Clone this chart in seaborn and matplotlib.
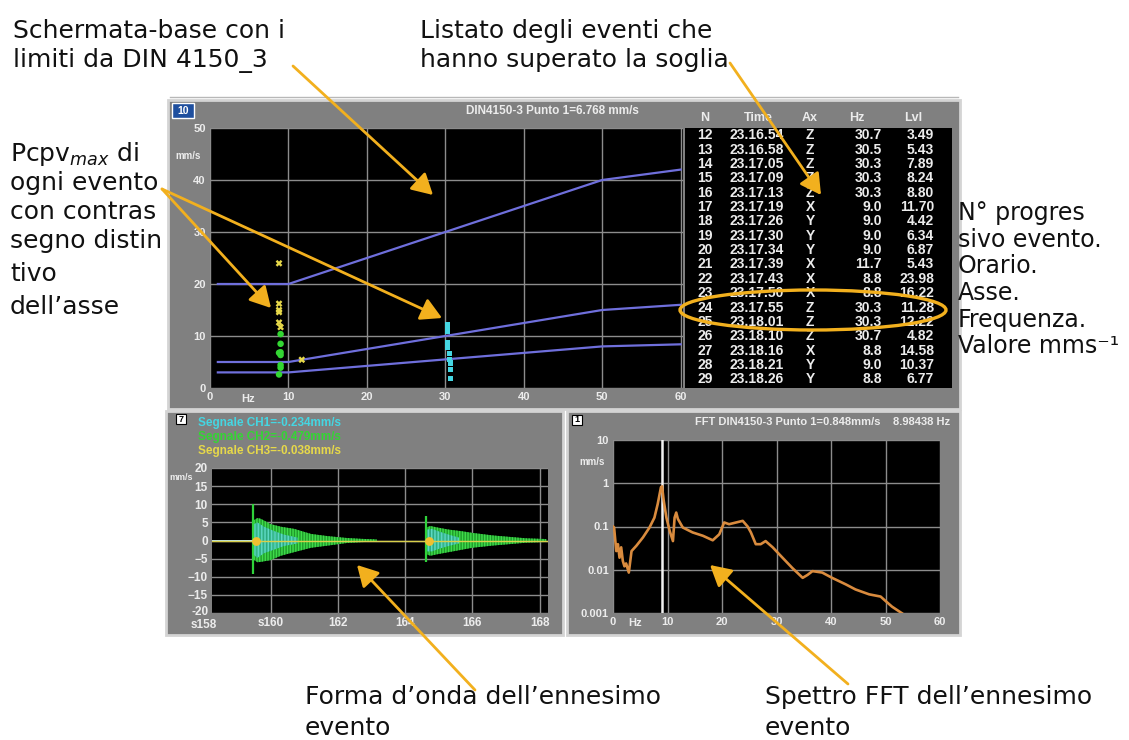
import numpy as np
import pandas as pd
import matplotlib
matplotlib.use("Agg")
import matplotlib.pyplot as plt
import matplotlib.transforms as mtransforms
import seaborn as sns
from matplotlib.patches import Rectangle, Ellipse, FancyArrowPatch

# ---------------------------------------------------------------- data
# DIN 4150-3 limit curves (mm/s vs Hz)
din_freq = [1, 10, 50, 60]
din_line1 = [20, 20, 40, 42]
din_line2 = [5, 5, 15, 16]
din_line3 = [3, 3, 8, 8.4]

# events over threshold (listing)
ev_n = [12, 13, 14, 15, 16, 17, 18, 19, 20, 21, 22, 23, 24, 25, 26, 27, 28, 29]
ev_time = ["23.16.54", "23.16.58", "23.17.05", "23.17.09", "23.17.13", "23.17.19",
           "23.17.26", "23.17.30", "23.17.34", "23.17.39", "23.17.43", "23.17.50",
           "23.17.55", "23.18.01", "23.18.10", "23.18.16", "23.18.21", "23.18.26"]
ev_axis = ["Z", "Z", "Z", "Z", "Z", "X", "Y", "Y", "Y", "X", "X", "X",
           "Z", "Z", "Z", "X", "Y", "Y"]
ev_hz = [30.7, 30.5, 30.3, 30.3, 30.3, 9.0, 9.0, 9.0, 9.0, 11.7, 8.8, 8.8,
         30.3, 30.3, 30.7, 8.8, 9.0, 8.8]
ev_lvl = [3.49, 5.43, 7.89, 8.24, 8.80, 11.70, 4.42, 6.34, 6.87, 5.43, 23.98, 16.22,
          11.28, 12.22, 4.82, 14.58, 10.37, 6.77]

# earlier events (scrolled out of the listing)
old_axis = ["X", "X", "Y", "Y", "Y", "Z", "Z", "Z"]
old_hz = [8.8, 8.8, 9.0, 9.0, 8.8, 30.3, 30.5, 30.7]
old_lvl = [15.0, 12.6, 8.5, 3.9, 2.6, 10.8, 6.6, 1.9]

# waveform of the selected event: peak spikes and decay envelopes
spike_t = [159.47, 164.62]
spike_hi = [10.2, 6.8]
spike_lo = [-9.3, -5.8]

ch2_t1 = [159.48, 159.60, 159.70, 160.00, 160.30, 160.70, 161.20, 161.70, 162.25, 162.70, 163.15]
ch2_hi1 = [5.5, 6.2, 6.0, 4.5, 3.8, 3.2, 1.8, 1.2, 0.7, 0.45, 0.3]
ch2_lo1 = [-5.2, -6.0, -5.9, -5.4, -4.2, -3.2, -2.0, -1.4, -0.7, -0.45, -0.3]
ch2_t2 = [164.63, 164.75, 164.95, 165.30, 165.65, 166.00, 166.60, 167.10, 167.60, 168.20]
ch2_hi2 = [3.6, 4.0, 3.6, 3.0, 2.6, 2.1, 1.4, 1.0, 0.6, 0.4]
ch2_lo2 = [-3.8, -4.2, -3.8, -3.2, -2.6, -2.0, -1.4, -1.0, -0.6, -0.4]

ch1_t1 = [159.50, 159.60, 159.80, 160.10, 160.40, 160.80]
ch1_hi1 = [4.5, 5.0, 3.8, 2.6, 1.6, 0.8]
ch1_lo1 = [-4.0, -4.8, -3.5, -2.5, -1.5, -0.8]
ch1_t2 = [164.65, 164.80, 165.00, 165.30, 165.60]
ch1_hi2 = [3.0, 3.2, 2.5, 1.6, 0.8]
ch1_lo2 = [-3.0, -3.0, -2.3, -1.5, -0.8]

ch1_pre_t = [158.25, 159.47]
ch1_pre_v = [0.0, 0.0]
ch3_t = [158.25, 168.25]
ch3_v = [0.0, 0.0]
ch3_mark_t = [159.55, 164.70]
ch3_mark_v = [0.0, 0.0]

# FFT spectrum of the selected event
fft_hz = [0.0, 0.2, 0.6, 0.9, 1.2, 1.5, 1.8, 2.1, 2.4, 2.9, 3.4, 4.3, 5.5, 6.7, 7.6,
          8.2, 8.8, 9.0, 9.3, 9.8, 10.4, 11.0, 11.3, 11.6, 11.9, 12.8, 14.6, 16.5,
          18.3, 19.5, 20.4, 21.3, 22.6, 23.8, 24.7, 25.3, 26.2, 27.1, 28.0, 29.3,
          31.1, 32.9, 34.8, 35.7, 36.6, 38.4, 40.2, 42.7, 44.5, 47.0, 49.1, 50.0,
          51.2, 53.0]
fft_amp = [0.10, 0.095, 0.027, 0.039, 0.019, 0.033, 0.016, 0.012, 0.014, 0.0086,
           0.027, 0.036, 0.056, 0.095, 0.16, 0.33, 0.81, 0.848, 0.40, 0.16, 0.079,
           0.046, 0.16, 0.21, 0.15, 0.095, 0.073, 0.061, 0.048, 0.066, 0.124, 0.113,
           0.124, 0.135, 0.10, 0.073, 0.039, 0.039, 0.046, 0.033, 0.019, 0.011,
           0.0065, 0.0076, 0.0093, 0.0086, 0.0065, 0.0046, 0.0035, 0.0027, 0.0024,
           0.0019, 0.0014, 0.00099]
fft_peak_hz = 8.98438

# ---------------------------------------------------------------- style
W, H = 1129, 740
PANEL = "#808080"
TXT = "#ececec"
GRID = "#8c8c8c"
LIMIT = "#6f6fdc"
AMBER = "#f2b01e"
AX_COL = {"X": "#e6d84a", "Y": "#33d633", "Z": "#45d6e2"}
AX_MARK = {"X": "X", "Y": "o", "Z": "s"}
AX_SIZE = {"X": 24, "Y": 22, "Z": 14}

plt.rcParams["font.family"] = ["Liberation Sans", "DejaVu Sans"]
plt.rcParams["font.weight"] = "bold"
plt.rcParams["mathtext.fontset"] = "custom"
plt.rcParams["mathtext.rm"] = "DejaVu Sans:normal"
plt.rcParams["mathtext.it"] = "DejaVu Sans:italic:normal"
plt.rcParams["mathtext.bf"] = "DejaVu Sans:bold"
plt.rcParams["mathtext.sf"] = "DejaVu Sans:normal"
plt.rcParams["hatch.linewidth"] = 1.0

fig = plt.figure(figsize=(W / 100, H / 100), dpi=100)
fig.patch.set_facecolor("white")


def frac(x0, y0, x1, y1):
    return [x0 / W, 1 - y1 / H, (x1 - x0) / W, (y1 - y0) / H]


def pixel_layer(z):
    a = fig.add_axes([0, 0, 1, 1], zorder=z)
    a.set_xlim(0, W)
    a.set_ylim(H, 0)
    a.axis("off")
    return a


def scope(ax):
    ax.set_facecolor("black")
    ax.grid(True, color=GRID, lw=1)
    ax.set_axisbelow(True)
    for s in ax.spines.values():
        s.set_visible(False)
    ax.tick_params(length=0, colors=TXT, labelsize=8, pad=3)
    ax.set_xlabel("")
    ax.set_ylabel("")


bg = pixel_layer(0)
fg = pixel_layer(10)

# panel frames
for x0, y0, x1, y1 in [(168, 100, 960, 409), (166, 411, 563, 635), (567, 411, 960, 635)]:
    bg.add_patch(Rectangle((x0, y0), x1 - x0, y1 - y0, facecolor=PANEL,
                           edgecolor="#d4d4d4", lw=2))
bg.plot([170, 958], [97, 97], color="#b8b8b8", lw=1)

# ---------------------------------------------------------------- top panel
bg.add_patch(Rectangle((172, 103), 22, 15, facecolor="#1f4f9e", edgecolor="white", lw=1))
bg.text(183, 110.5, "10", color="white", fontsize=7.5, ha="center", va="center")
bg.text(552, 111, "DIN4150-3 Punto 1=6.768 mm/s", color=TXT, fontsize=8.5,
        ha="center", va="center")
bg.text(188, 156, "mm/s", color=TXT, fontsize=7, ha="center", va="center")
bg.text(248, 399, "Hz", color=TXT, fontsize=8, ha="center", va="center")

ax1 = fig.add_axes(frac(210, 128, 683, 388), zorder=2)
for lim in (din_line1, din_line2, din_line3):
    sns.lineplot(x=din_freq, y=lim, color=LIMIT, lw=1.6, ax=ax1)

events = pd.DataFrame({
    "Hz": old_hz + ev_hz,
    "Lvl": old_lvl + ev_lvl,
    "Ax": old_axis + ev_axis,
})
sns.scatterplot(data=events, x="Hz", y="Lvl", hue="Ax", style="Ax", size="Ax",
                palette=AX_COL, markers=AX_MARK, sizes=AX_SIZE, linewidth=0,
                legend=False, ax=ax1, zorder=3)
scope(ax1)
ax1.set_xlim(0, 60.3)
ax1.set_ylim(0, 50)
ax1.set_xticks(range(0, 61, 10))
ax1.set_yticks(range(0, 51, 10))

# event listing
ax_tab = fig.add_axes(frac(685, 128, 952, 388), zorder=2)
ax_tab.set_facecolor("black")
ax_tab.set_xlim(685, 952)
ax_tab.set_ylim(17.6, -0.5)
ax_tab.set_xticks([])
ax_tab.set_yticks([])
for s in ax_tab.spines.values():
    s.set_visible(False)

hdr_y = -1.2
for x, lab in [(705, "N"), (758, "Time"), (810, "Ax"), (857, "Hz"), (913, "Lvl")]:
    ax_tab.text(x, hdr_y, lab, color=TXT, fontsize=9, ha="center", va="center", clip_on=False)
for i, (n, t, a, hz, lv) in enumerate(zip(ev_n, ev_time, ev_axis, ev_hz, ev_lvl)):
    kw = dict(color=TXT, fontsize=10, va="center")
    ax_tab.text(705, i, str(n), ha="center", **kw)
    ax_tab.text(757, i, t, ha="center", **kw)
    ax_tab.text(810, i, a, ha="center", **kw)
    ax_tab.text(882, i, f"{hz:.1f}", ha="right", **kw)
    ax_tab.text(934, i, f"{lv:.2f}", ha="right", **kw)

# ---------------------------------------------------------------- waveform panel
bg.add_patch(Rectangle((176, 414), 10, 10, facecolor="white", edgecolor="black", lw=0.8))
bg.text(181, 419, "7", color="black", fontsize=6.5, ha="center", va="center")
bg.text(198, 423, "Segnale CH1=-0.234mm/s", color=AX_COL["Z"], fontsize=8.5, va="center")
bg.text(198, 437, "Segnale CH2=-0.479mm/s", color=AX_COL["Y"], fontsize=8.5, va="center")
bg.text(198, 451, "Segnale CH3=-0.038mm/s", color=AX_COL["X"], fontsize=8.5, va="center")
bg.text(181, 477, "mm/s", color=TXT, fontsize=6.5, ha="center", va="center")

ax2 = fig.add_axes(frac(212, 468, 548, 613), zorder=2)
for t, lo, hi in [(ch2_t1, ch2_lo1, ch2_hi1), (ch2_t2, ch2_lo2, ch2_hi2)]:
    ax2.fill_between(t, lo, hi, facecolor="#1f9a2a", edgecolor="#3fdc4b",
                     hatch="||||||", lw=0, zorder=2)
for t, lo, hi in [(ch1_t1, ch1_lo1, ch1_hi1), (ch1_t2, ch1_lo2, ch1_hi2)]:
    ax2.fill_between(t, lo, hi, facecolor="#34b0a8", edgecolor="#6fe6dc",
                     hatch="|||||", alpha=0.7, lw=0, zorder=3)
ax2.vlines(spike_t, spike_lo, spike_hi, color="#2fd23a", lw=1.6, zorder=4)
sns.lineplot(x=ch1_pre_t, y=ch1_pre_v, color="#bfe8ee", lw=1.4, ax=ax2, zorder=4)
sns.lineplot(x=ch3_t, y=ch3_v, color="#d8cf4a", lw=1.0, ax=ax2, zorder=5)
sns.scatterplot(x=ch3_mark_t, y=ch3_mark_v, color="#f0c030", s=40, linewidth=0,
                ax=ax2, zorder=6)
scope(ax2)
ax2.set_xlim(158.25, 168.25)
ax2.set_ylim(-20, 20)
ax2.set_yticks(range(-15, 21, 5))
ax2.set_xticks([160, 162, 164, 166, 168])
ax2.set_xticklabels(["s160", "162", "164", "166", "168"])
ax2.axhline(-20, color=GRID, lw=1, zorder=0)
ax2.tick_params(axis="both", labelsize=8.5)
tr_x = mtransforms.blended_transform_factory(ax2.transData, ax2.transAxes)
ax2.text(158.0, -0.04, "s158", transform=tr_x, color=TXT, fontsize=8.5,
         ha="center", va="top", clip_on=False)
tr_y = mtransforms.blended_transform_factory(ax2.transAxes, ax2.transData)
ax2.text(-0.011, -19.6, "-20", transform=tr_y, color=TXT, fontsize=8.5,
         ha="right", va="center", clip_on=False)

# ---------------------------------------------------------------- FFT panel
bg.add_patch(Rectangle((572, 415), 10, 10, facecolor="white", edgecolor="black", lw=0.8))
bg.text(577, 420, "1", color="black", fontsize=6.5, ha="center", va="center")
bg.text(950, 422, "FFT DIN4150-3 Punto 1=0.848mm/s    8.98438 Hz", color=TXT,
        fontsize=8, ha="right", va="center")
bg.text(592, 462, "mm/s", color=TXT, fontsize=7, ha="center", va="center")
bg.text(635, 623, "Hz", color=TXT, fontsize=8, ha="center", va="center")

ax3 = fig.add_axes(frac(613, 440, 940, 613), zorder=2)
ax3.set_yscale("log")
ax3.axvline(fft_peak_hz, color="#f2f2f2", lw=1.8, zorder=2)
sns.lineplot(x=fft_hz, y=fft_amp, sort=False, color="#d98b3e", lw=1.9, ax=ax3, zorder=3)
scope(ax3)
ax3.set_xlim(0, 60)
ax3.set_ylim(0.001, 10)
ax3.set_xticks(range(0, 61, 10))
ax3.set_yticks([0.001, 0.01, 0.1, 1, 10])
ax3.set_yticklabels(["0.001", "0.01", "0.1", "1", "10"])
ax3.minorticks_off()
ax3.grid(True, which="major", color=GRID, lw=1)

# ---------------------------------------------------------------- callouts
ann_kw = dict(family="DejaVu Sans", fontweight="normal", color="#111111",
              va="baseline", ha="left")
callouts = [
    (13, 38, "Schermata-base con i", 18), (13, 67, "limiti da DIN 4150_3", 18),
    (420, 38, "Listato degli eventi che", 18), (420, 67, "hanno superato la soglia", 18),
    (10, 161, r"Pcpv$_{max}$ di", 18), (10, 190, "ogni evento", 18),
    (10, 219, "con contras", 18), (10, 248, "segno distin", 18),
    (10, 281, "tivo", 18), (10, 314, "dell’asse", 18),
    (958, 220, "N° progres", 17), (958, 247, "sivo evento.", 17),
    (958, 273, "Orario.", 17), (958, 300, "Asse.", 17),
    (958, 327, "Frequenza.", 17), (958, 353, "Valore mms⁻¹", 17),
    (305, 704, "Forma d’onda dell’ennesimo", 18), (305, 735, "evento", 18),
    (765, 704, "Spettro FFT dell’ennesimo", 18), (765, 735, "evento", 18),
]
for x, y, s, fs in callouts:
    fg.text(x, y, s, fontsize=fs, **ann_kw)

arrows = [
    ((293, 66), (433, 195)),
    ((730, 63), (821, 195)),
    ((162, 189), (271, 308)),
    ((162, 189), (442, 318)),
    ((475, 690), (357, 565)),
    ((848, 684), (710, 565)),
]
for a, b in arrows:
    fg.add_patch(FancyArrowPatch(a, b, arrowstyle="-|>,head_length=0.9,head_width=0.5",
                                 mutation_scale=14, color=AMBER, lw=2.0,
                                 shrinkA=0, shrinkB=0))

fg.add_patch(Ellipse((813, 310), 266, 40, fill=False, edgecolor=AMBER, lw=2.4))

fig.savefig("out.png", dpi=100, facecolor="white")
